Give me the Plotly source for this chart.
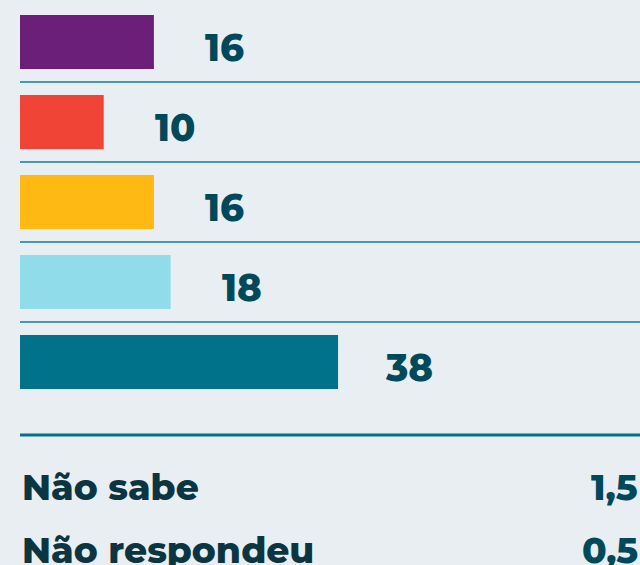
import plotly.graph_objects as go

categories = ["Categoria 1", "Categoria 2", "Categoria 3", "Categoria 4", "Categoria 5"]
values = [16, 10, 16, 18, 38]
bar_colors = ["#6c1f78", "#f04437", "#ffb912", "#91dcea", "#00728a"]
extra_labels = ["Não sabe", "Não respondeu"]
extra_values = ["1,5", "0,5"]

BG = "#e9eef3"
TXT = "#00495a"
TXT2 = "#0b3641"
FONT = "Montserrat, 'Open Sans', Lato, sans-serif"

fig = go.Figure()
fig.add_trace(go.Bar(
    x=values, y=categories, orientation="h",
    marker=dict(color=bar_colors, line=dict(width=0)),
    width=0.675, hoverinfo="skip",
))

for c, v in zip(categories, values):
    fig.add_annotation(
        x=v, y=c, xref="x", yref="y", text=str(v), showarrow=False,
        xanchor="center", yanchor="middle", xshift=71, yshift=-5,
        font=dict(family=FONT, size=37, color=TXT, weight=800),
    )

# separators between categories
for i in range(len(categories) - 1):
    fig.add_shape(type="line", xref="x", yref="y", x0=0, x1=80,
                  y0=i + 0.5, y1=i + 0.5,
                  line=dict(color="#4a98ad", width=2))

# bottom rule
fig.add_shape(type="line", xref="x", yref="paper", x0=0, x1=80,
              y0=1 - 435 / 565, y1=1 - 435 / 565,
              line=dict(color="#00728a", width=3))

for k, (lab, val) in enumerate(zip(extra_labels, extra_values)):
    ypix = 487 + 63 * k
    fig.add_annotation(
        x=20 / 640, y=1 - ypix / 565, xref="paper", yref="paper", text=lab,
        showarrow=False, xanchor="left", yanchor="middle",
        font=dict(family=FONT, size=36, color=TXT2, weight=800),
    )
    fig.add_annotation(
        x=1, y=1 - ypix / 565, xref="paper", yref="paper", text=val,
        showarrow=False, xanchor="right", yanchor="middle",
        font=dict(family=FONT, size=36, color=TXT, weight=800),
    )

fig.update_layout(
    width=640, height=565, margin=dict(l=0, r=0, t=0, b=0),
    paper_bgcolor=BG, plot_bgcolor=BG, showlegend=False,
    xaxis=dict(range=[-20 / 8.37, 620 / 8.37], visible=False, fixedrange=True),
    yaxis=dict(range=[6.5375, -0.525], visible=False, fixedrange=True,
               categoryorder="array", categoryarray=categories),
)

fig.write_html("out.html", config={"displayModeBar": False})
